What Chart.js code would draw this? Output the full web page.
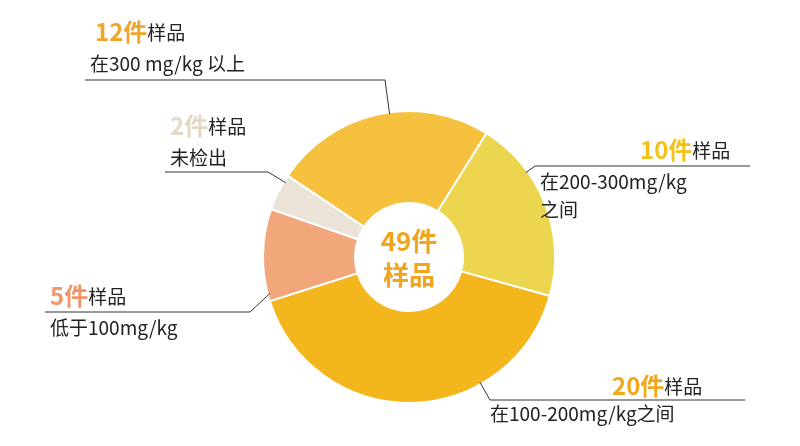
<!DOCTYPE html><html><head><meta charset="utf-8">
<script src="https://cdn.jsdelivr.net/npm/chart.js@4"></script>
<style>body{margin:0;background:#fff}#w{width:800px;height:446px}</style></head><body><div id="w"><canvas id="c"></canvas></div>
<script>
const categories=["在200-300mg/kg之间","在100-200mg/kg之间","低于100mg/kg","未检出","在300 mg/kg 以上"];
const counts=[10,20,5,2,12];
const colors=["#ecd54f","#f3b71d","#f2a77a","#ebe3d8","#f5c13e"];
const numColors=["#f2c21a","#f1a91c","#f0976a","#e6d8c6","#f0a52a"];
const total=49;
const lay=[
 {x:640,y:150,lines:["在200-300mg/kg","之间"],lx:540,ly:182,u:[535,750,166],end:535},
 {x:612,y:386,lines:["在100-200mg/kg之间"],lx:490,ly:414,u:[490,745,400],end:490},
 {x:50,y:296,lines:["低于100mg/kg"],lx:50,ly:328,u:[45,250,312],end:250},
 {x:170,y:126,lines:["未检出"],lx:170,ly:158,u:[165,268,172],end:268},
 {x:95,y:32,lines:["在300 mg/kg 以上"],lx:90,ly:64,u:[85,385,80],end:385}
];
const labels={id:'lbl',afterDraw(ch){const c=ch.ctx;const meta=ch.getDatasetMeta(0);
 c.save();c.textBaseline='middle';
 meta.data.forEach((a,i)=>{const L=lay[i];const p=a.getProps(['x','y','startAngle','endAngle','outerRadius'],true);
  // nearest point on arc edge toward the underline end
  let ang=Math.atan2(L.u[2]-p.y,L.end-p.x);let s=p.startAngle,e=p.endAngle;
  while(ang<s)ang+=2*Math.PI;while(ang>s+2*Math.PI)ang-=2*Math.PI;
  if(ang>e){const d1=ang-e,d2=s+2*Math.PI-ang;ang=d1<d2?e-0.05:s+0.05;}
  const ax=p.x+Math.cos(ang)*(p.outerRadius-2),ay=p.y+Math.sin(ang)*(p.outerRadius-2);
  c.strokeStyle='#333';c.lineWidth=1;c.beginPath();c.moveTo(L.u[0],L.u[2]);c.lineTo(L.u[1],L.u[2]);c.moveTo(L.end,L.u[2]);c.lineTo(ax,ay);c.stroke();
  c.font='bold 24px "Noto Sans CJK SC"';c.fillStyle=numColors[i];c.textAlign='left';const n=counts[i]+'件';c.fillText(n,L.x,L.y);
  const w=c.measureText(n).width;c.font='19px "Noto Sans CJK SC"';c.fillStyle='#222';c.fillText('样品',L.x+w,L.y+1);
  L.lines.forEach((t,k)=>c.fillText(t,L.lx,L.ly+k*28));
 });
 const a0=meta.data[0];c.textAlign='center';c.font='bold 26px "Noto Sans CJK SC"';c.fillStyle='#f1a51c';
 c.fillText(total+'件',a0.x,a0.y-16);c.fillText('样品',a0.x,a0.y+18);c.restore();}};
new Chart(document.getElementById('c'),{type:'doughnut',data:{labels:categories,datasets:[{data:counts,backgroundColor:colors,borderColor:'#fff',borderWidth:2}]},
options:{responsive:true,maintainAspectRatio:false,animation:false,rotation:32,cutout:'37%',
layout:{padding:{left:262,right:244,top:109,bottom:41}},plugins:{legend:{display:false},tooltip:{enabled:false}}},plugins:[labels]});
</script></body></html>
